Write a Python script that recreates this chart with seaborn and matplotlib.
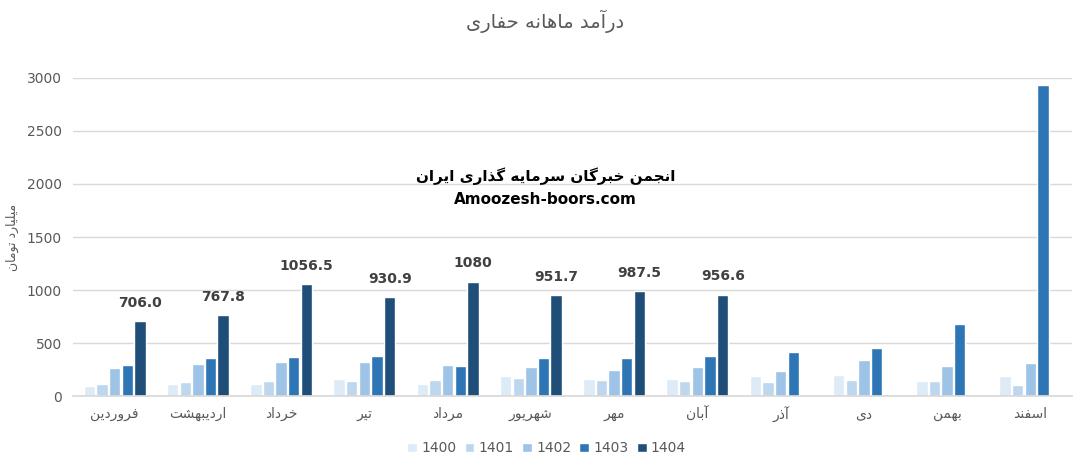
import numpy as np
import pandas as pd
import matplotlib
matplotlib.use("Agg")
import matplotlib.pyplot as plt
import seaborn as sns

# monthly values (billion toman)
months = ["فروردین", "اردیبهشت", "خرداد", "تیر", "مرداد", "شهریور",
          "مهر", "آبان", "آذر", "دی", "بهمن", "اسفند"]
years = ["1400", "1401", "1402", "1403", "1404"]
y1400 = [94, 113, 113, 160, 113, 188, 160, 160, 188, 198, 141, 188]
y1401 = [113, 132, 141, 141, 151, 170, 151, 141, 132, 151, 141, 104]
y1402 = [264, 302, 320, 320, 292, 273, 245, 273, 236, 339, 283, 311]
y1403 = [292, 358, 367, 377, 283, 358, 358, 377, 415, 452, 679, 2930]
y1404 = [706.0, 767.8, 1056.5, 930.9, 1080, 951.7, 987.5, 956.6,
         np.nan, np.nan, np.nan, np.nan]
labels_1404 = ["706.0", "767.8", "1056.5", "930.9", "1080", "951.7", "987.5", "956.6"]
colors = ["#DDEBF7", "#BDD7EE", "#9DC3E6", "#2E75B6", "#1F4E79"]

title = "درآمد ماهانه حفاری"
ylabel = "میلیارد تومان"
watermark = "انجمن خبرگان سرمایه گذاری ایران"

# --- minimal Persian shaping (matplotlib has no complex text layout) ---
FORMS = {
    "ا": (0xFE8D, 2), "آ": (0xFE81, 2), "ب": (0xFE8F, 4), "پ": (0xFB56, 4),
    "ت": (0xFE95, 4), "ث": (0xFE99, 4), "ج": (0xFE9D, 4), "چ": (0xFB7A, 4),
    "ح": (0xFEA1, 4), "خ": (0xFEA5, 4), "د": (0xFEA9, 2), "ذ": (0xFEAB, 2),
    "ر": (0xFEAD, 2), "ز": (0xFEAF, 2), "ژ": (0xFB8A, 2), "س": (0xFEB1, 4),
    "ش": (0xFEB5, 4), "ص": (0xFEB9, 4), "ض": (0xFEBD, 4), "ط": (0xFEC1, 4),
    "ظ": (0xFEC5, 4), "ع": (0xFEC9, 4), "غ": (0xFECD, 4), "ف": (0xFED1, 4),
    "ق": (0xFED5, 4), "ک": (0xFB8E, 4), "گ": (0xFB92, 4), "ل": (0xFEDD, 4),
    "م": (0xFEE1, 4), "ن": (0xFEE5, 4), "و": (0xFEED, 2), "ه": (0xFEE9, 4),
    "ی": (0xFBFC, 4),
}


def fa(text):
    out = []
    for i, ch in enumerate(text):
        if ch not in FORMS:
            out.append(ch)
            continue
        base, n = FORMS[ch]
        prev = text[i - 1] if i > 0 else ""
        nxt = text[i + 1] if i + 1 < len(text) else ""
        j_prev = prev in FORMS and FORMS[prev][1] == 4
        j_next = n == 4 and nxt in FORMS
        if j_prev and j_next:
            off = 3
        elif j_prev:
            off = 1
        elif j_next:
            off = 2
        else:
            off = 0
        out.append(chr(base + off))
    return "".join(reversed(out))


df = pd.DataFrame({"month": months, "1400": y1400, "1401": y1401,
                   "1402": y1402, "1403": y1403, "1404": y1404})
long = df.melt(id_vars="month", var_name="year", value_name="value")
long["month"] = long["month"].map(fa)

sns.set_theme(style="white")
plt.rcParams["font.family"] = ["DejaVu Sans"]

fig = plt.figure(figsize=(10.8, 4.67), dpi=100)
ax = fig.add_axes([0.0676, 0.152, 0.925, 0.681])

sns.barplot(data=long, x="month", y="value", hue="year", hue_order=years,
            order=[fa(m) for m in months], palette=colors,
            width=0.76, gap=0.1, saturation=1, ax=ax, legend=True)

ax.bar_label(ax.containers[-1], labels=labels_1404, padding=8,
             fontsize=10, fontweight="bold", color="#404040")

ax.set_ylim(0, 3000)
ax.set_xlim(-0.5, 11.5)
ax.set_yticks(range(0, 3001, 500))
ax.yaxis.grid(True, color="#D9D9D9", linewidth=1)
ax.set_axisbelow(True)
for s in ["top", "right", "left"]:
    ax.spines[s].set_visible(False)
ax.spines["bottom"].set_color("#D9D9D9")
ax.tick_params(axis="both", length=0, labelsize=10, colors="#595959")
ax.tick_params(axis="y", pad=8)
ax.tick_params(axis="x", pad=8)
ax.set_xlabel("")
ax.set_ylabel(fa(ylabel), fontsize=9, color="#595959")
ax.yaxis.set_label_coords(-0.054, 0.5)

fig.text(0.505, 0.955, fa(title), ha="center", va="center",
         fontsize=14, color="#595959")
fig.text(0.505, 0.622, fa(watermark), ha="center", va="center",
         fontsize=11, fontweight="bold", color="black")
fig.text(0.505, 0.572, "Amoozesh-boors.com", ha="center", va="center",
         fontsize=11, fontweight="bold", color="black")

leg = ax.legend(loc="center", bbox_to_anchor=(0.474, -0.165), ncol=5,
                frameon=False, fontsize=10, handlelength=0.7, handleheight=0.7,
                columnspacing=0.6, handletextpad=0.3)
for t in leg.get_texts():
    t.set_color("#595959")

fig.savefig("out.png", dpi=100)
